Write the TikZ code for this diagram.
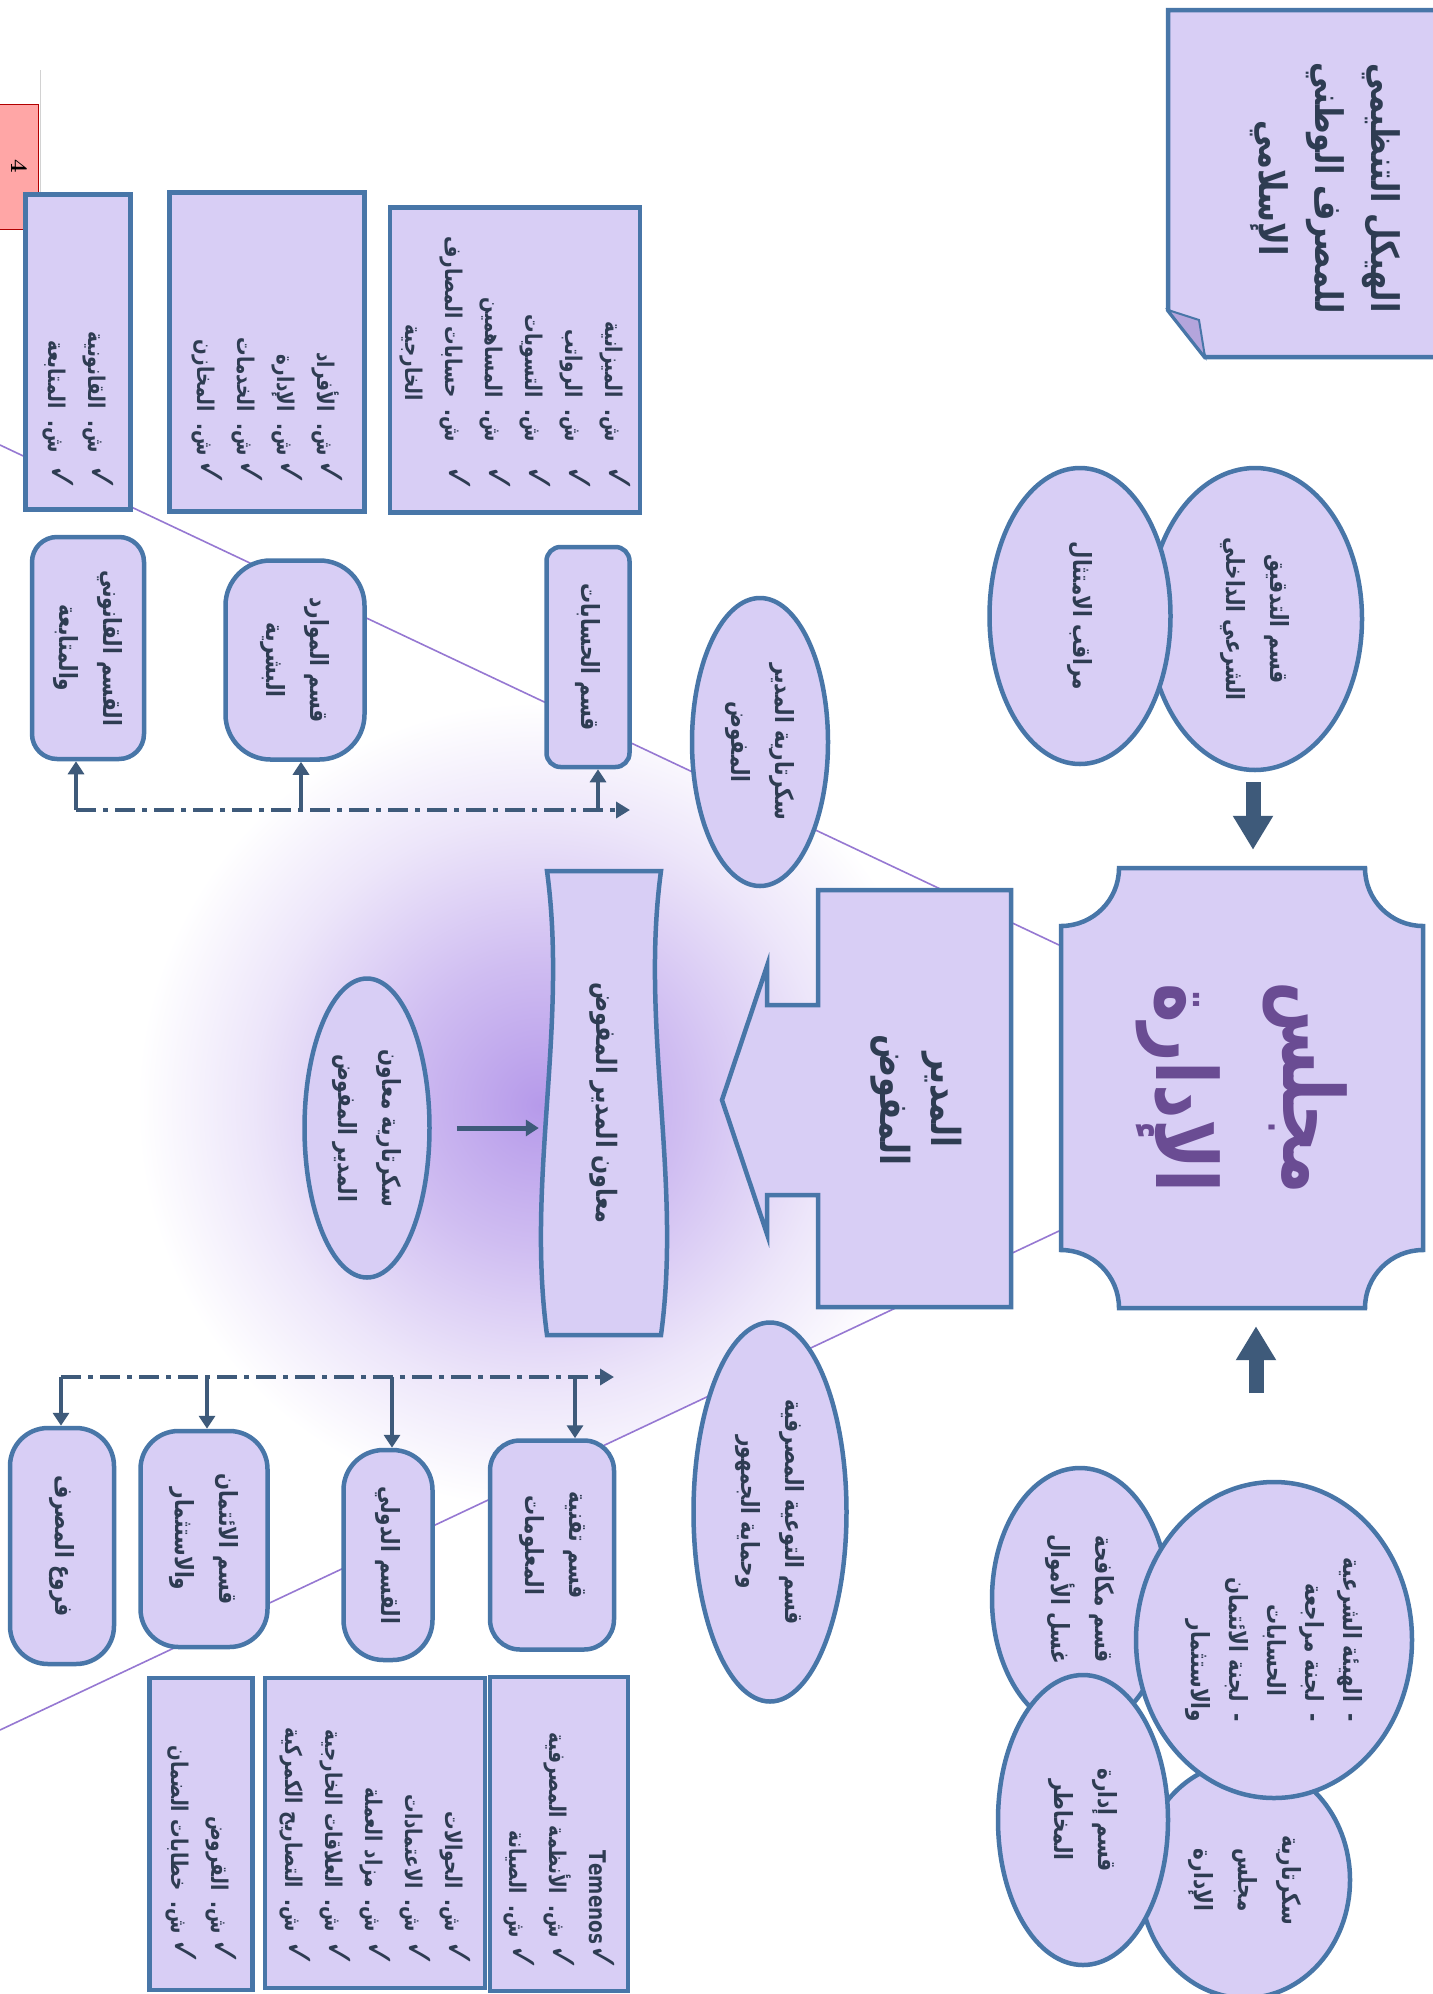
\documentclass[tikz,border=0pt]{standalone}
\usepackage{fontspec}
\usetikzlibrary{shapes.geometric,arrows.meta}
\TeXXeTstate=1
\newfontfamily\ar[Script=Arabic,FakeStretch=0.8]{DejaVu Sans}
\newcommand{\RL}[1]{\beginR #1\endR}
\newcommand{\ck}{{\fontsize{40}{40}\selectfont ✓}}
\definecolor{fillc}{RGB}{216,206,245}
\definecolor{bordc}{RGB}{72,118,168}
\definecolor{txtc}{RGB}{46,60,82}
\definecolor{arrc}{RGB}{62,90,122}
\definecolor{boardtxt}{RGB}{106,76,147}
\definecolor{glowc}{RGB}{182,154,234}
\definecolor{linec}{RGB}{150,120,210}
\definecolor{flapc}{RGB}{180,165,220}
\pgfdeclareradialshading{glow}{\pgfpoint{0bp}{0bp}}{color(0bp)=(glowc); color(5bp)=(glowc!65!white); color(10bp)=(glowc!25!white); color(14bp)=(white); color(50bp)=(white)}
\begin{document}
\begin{tikzpicture}[x=1pt,y=-1pt,
 base/.style={draw=bordc, fill=fillc, line width=4.5pt, text=txtc, align=center, inner sep=0pt, rotate=-90, font=\ar\bfseries\fontsize{25}{44}\selectfont},
 ell/.style={base, ellipse},
 rbox/.style={base, rectangle, rounded corners=#1},
 lbox/.style={base, rectangle, align=right, font=\ar\bfseries\fontsize{23}{40}\selectfont},
 txt/.style={text=txtc, align=center, inner sep=0pt, rotate=-90},
 bus/.style={draw=arrc, line width=4pt, dash pattern=on 20pt off 7pt on 5pt off 7pt, -{Triangle[length=14pt,width=16pt]}},
 varr/.style={draw=arrc, line width=4pt, -{Triangle[length=13pt,width=16pt]}},
 blk/.style={draw=arrc, line width=15pt, -{Triangle[length=34pt,width=38pt]}},
]
\useasboundingbox (0,0) rectangle (1432,1994);
\fill[white] (0,0) rectangle (1432,1994);

% glow and beam lines
\begin{scope}
\clip (1059,945) -- (0,445) -- (0,1730) -- (1059,1231) -- cycle;
\shade[shading=glow] (540,1105) circle[radius=720];
\end{scope}
\draw[linec, line width=1.6pt] (1059,945) -- (0,445);
\draw[linec, line width=1.6pt] (1059,1231) -- (0,1730);

% page tab
\draw[gray!35, line width=1pt] (40,70) -- (40,260);
\draw[red!70!black, line width=1pt, fill=red!35] (-2,104) rectangle (38,229);
\node[rotate=-90, font=\bfseries\fontsize{24}{24}\selectfont] (pg) at (19,166) {4};

% title
\draw[bordc, line width=4.5pt, fill=fillc] (1168,10) -- (1445,10) -- (1445,357) -- (1205,357) -- (1168,310) -- cycle;
\draw[bordc, line width=2pt, fill=flapc] (1168,310) -- (1199,320) -- (1205,357) -- cycle;
\node[txt, font=\ar\bfseries\fontsize{38}{56}\selectfont] (title) at (1325,188) {\RL{الهيكل التنظيمي}\\\RL{للمصرف الوطني}\\\RL{الإسلامي}};

% board
\draw[bordc, line width=4.5pt, fill=fillc] (1061,926) arc[start angle=90,end angle=0,radius=58] -- (1365,868) arc[start angle=180,end angle=90,radius=58] -- (1423,1250) arc[start angle=270,end angle=180,radius=58] -- (1119,1308) arc[start angle=0,end angle=-90,radius=58] -- cycle;
\node[txt, font=\ar\bfseries\fontsize{84}{127}\selectfont, text=boardtxt, minimum width=440pt, minimum height=362pt] (board) at (1242,1088) {\RL{مجلس}\\\RL{الإدارة}};

\coordinate (ta) at (1253,782);
\coordinate (ba) at (1256,1393);
\draw[blk, shorten >=18pt] (ta) -- (ta |- board.west);
\draw[blk, shorten >=18pt] (ba) -- (ba |- board.east);

% top cluster
\node[ell, minimum width=302pt, minimum height=214pt] (audit) at (1255,619) {\RL{قسم التدقيق}\\\RL{الشرعي الداخلي}};
\node[ell, minimum width=296pt, minimum height=181pt] (comp) at (1080,616) {\RL{مراقب الامتثال}};

% bottom cluster
\node[ell, minimum width=236pt, minimum height=210pt] (secb) at (1245,1880) {\RL{سكرتارية}\\\RL{مجلس}\\\RL{الإدارة}};
\node[ell, minimum width=262pt, minimum height=176pt] (aml) at (1080,1599) {\RL{قسم مكافحة}\\\RL{غسل الأموال}};
\node[ell, minimum width=316pt, minimum height=276pt, align=right, font=\ar\bfseries\fontsize{25}{38}\selectfont] (sharia) at (1274,1640) {\RL{-\hspace{12pt}الهيئة الشرعية}\\\RL{-\hspace{12pt}لجنة مراجعة}\\\RL{\hspace{26pt}الحسابات}\\\RL{-\hspace{12pt}لجنة الائتمان}\\\RL{والاستثمار}};
\node[ell, minimum width=290pt, minimum height=170pt] (risk) at (1083,1820) {\RL{قسم إدارة}\\\RL{المخاطر}};

% manager
\draw[bordc, line width=4.5pt, fill=fillc, line join=miter] (818,890) -- (1011,890) -- (1011,1307) -- (818,1307) -- (818,1195) -- (767,1195) -- (767,1234) -- (722,1100) -- (767,966) -- (767,1005) -- (818,1005) -- cycle;
\node[txt, font=\ar\bfseries\fontsize{40}{51}\selectfont] (mgr) at (916,1100) {\RL{المدير}\\\RL{المفوض}};

% middle column
\node[ell, minimum width=288pt, minimum height=136pt] (secm) at (760,742) {\RL{سكرتارية المدير}\\\RL{المفوض}};
\node[ell, minimum width=379pt, minimum height=153pt] (aware) at (770,1512) {\RL{قسم التوعية المصرفية}\\\RL{وحماية الجمهور}};

\draw[bordc, line width=4.5pt, fill=fillc] (547,871) -- (661,871) .. controls (640,1026) and (682,1180) .. (661,1335) -- (547,1335) .. controls (526,1180) and (568,1026) .. (547,871) -- cycle;
\node[txt, font=\ar\bfseries\fontsize{28}{40}\selectfont, minimum width=464pt, minimum height=114pt] (asst) at (604,1103) {\RL{معاون المدير المفوض}};

\node[ell, minimum width=299pt, minimum height=125pt] (seca) at (367,1128) {\RL{سكرتارية معاون}\\\RL{المدير المفوض}};
\draw[varr, line width=5pt, shorten <=25pt, shorten >=8pt] (seca.north) -- (asst.south |- seca.north);

% upper departments
\node[rbox=14pt, minimum width=220pt, minimum height=83pt] (acc) at (588,657) {\RL{قسم الحسابات}};
\node[rbox=45pt, minimum width=199pt, minimum height=139pt] (hr) at (295,660) {\RL{قسم الموارد}\\\RL{البشرية}};
\node[rbox=25pt, minimum width=222pt, minimum height=112pt] (legal) at (88,648) {\RL{القسم القانوني}\\\RL{والمتابعة}};

\coordinate (t0) at (76,810);
\coordinate (t1) at (301,810);
\coordinate (t2) at (598,810);
\coordinate (tE) at (630,810);
\draw[bus] (t0) -- (tE);
\draw[varr] (t0) -- (t0 |- legal.east);
\draw[varr] (t1) -- (t1 |- hr.east);
\draw[varr] (t2) -- (t2 |- acc.east);

% upper lists
\node[lbox, minimum width=305pt, minimum height=250pt, text width=265pt] (accl) at (515,360) {\RL{\ck\hspace{24pt}ش. الميزانية}\\\RL{\ck\hspace{24pt}ش. الرواتب}\\\RL{\ck\hspace{24pt}ش. التسويات}\\\RL{\ck\hspace{24pt}ش. المساهمين}\\\RL{\ck\hspace{24pt}ش. حسابات المصارف}\\\RL{\hspace{92pt}الخارجية}};
\node[lbox, minimum width=319pt, minimum height=195pt, text width=269pt] (hrl) at (267,352) {\RL{\ck\hspace{4pt}ش. الأفراد}\\\RL{\ck\hspace{4pt}ش. الإدارة}\\\RL{\ck\hspace{4pt}ش. الخدمات}\\\RL{\ck\hspace{4pt}ش. المخازن}};
\node[lbox, minimum width=315pt, minimum height=105pt, text width=279pt] (legall) at (78,352) {\RL{\ck\hspace{12pt}ش. القانونية}\\\RL{\ck\hspace{12pt}ش. المتابعة}};

% lower departments
\node[rbox=30pt, minimum width=209pt, minimum height=124pt] (it) at (552,1545) {\RL{قسم تقنية}\\\RL{المعلومات}};
\node[rbox=40pt, minimum width=210pt, minimum height=89pt] (intl) at (388,1555) {\RL{القسم الدولي}};
\node[rbox=38pt, minimum width=216pt, minimum height=127pt] (credit) at (204,1539) {\RL{قسم الائتمان}\\\RL{والاستثمار}};
\node[rbox=38pt, minimum width=236pt, minimum height=104pt] (branch) at (62,1546) {\RL{فروع المصرف}};

\coordinate (b0) at (61,1377);
\coordinate (b1) at (207,1377);
\coordinate (b2) at (392,1377);
\coordinate (b3) at (575,1377);
\coordinate (bE) at (614,1377);
\draw[bus] (b0) -- (bE);
\draw[varr] (b0) -- (b0 |- branch.west);
\draw[varr] (b1) -- (b1 |- credit.west);
\draw[varr] (b2) -- (b2 |- intl.west);
\draw[varr] (b3) -- (b3 |- it.west);

% lower lists
\node[lbox, minimum width=314pt, minimum height=138pt, text width=274pt] (teml) at (559,1834) {\RL{\ck\beginL Temenos\endL}\\\RL{\ck\hspace{6pt}ش. الأنظمة المصرفية}\\\RL{\ck\hspace{6pt}ش. الصيانة}};
\node[lbox, minimum width=310pt, minimum height=220pt, text width=268pt] (creditl) at (375,1833) {\RL{\ck\hspace{8pt}ش. الحوالات}\\\RL{\ck\hspace{8pt}ش. الاعتمادات}\\\RL{\ck\hspace{8pt}ش. مزاد العملة}\\\RL{\ck\hspace{8pt}ش. العلاقات الخارجية}\\\RL{\ck\hspace{8pt}ش. التصاريح الكمركية}};
\node[lbox, minimum width=312pt, minimum height=103pt, text width=262pt] (loansl) at (201,1834) {\RL{\ck\hspace{4pt}ش. القروض}\\\RL{\ck\hspace{4pt}ش. خطابات الضمان}};
\end{tikzpicture}
\end{document}
